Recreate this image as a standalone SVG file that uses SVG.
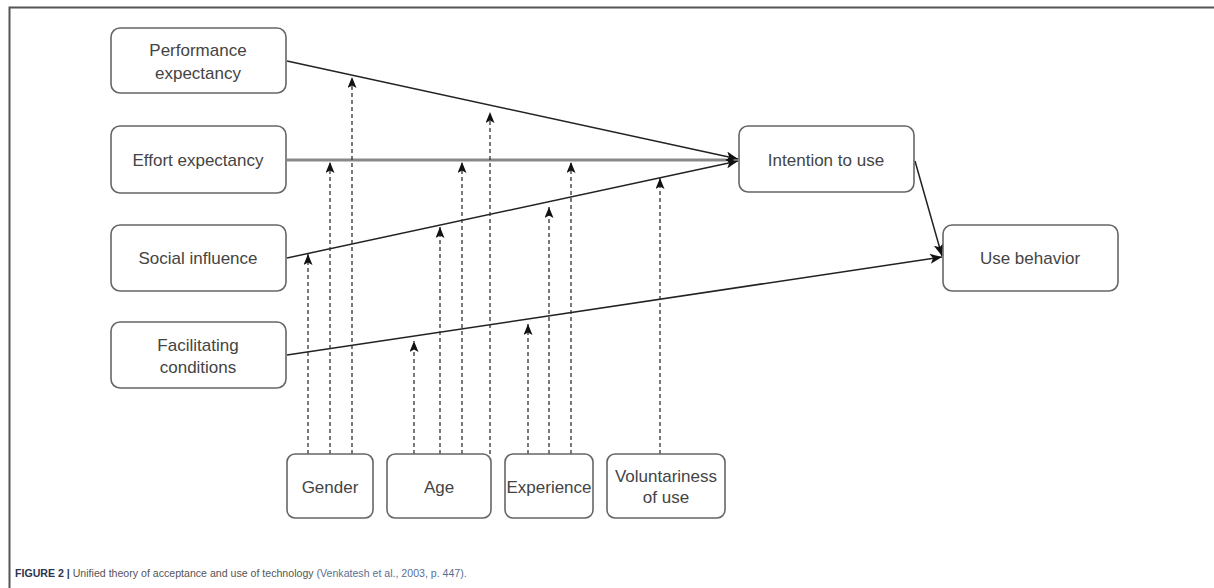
<svg xmlns="http://www.w3.org/2000/svg" width="1214" height="588" viewBox="0 0 1214 588">
<defs>
<style>
.box{fill:#fff;stroke:#666;stroke-width:1.6}
.lbl{font-family:"Liberation Sans",Arial,sans-serif;font-size:17px;fill:#444;text-anchor:middle}
.cap{font-family:"Liberation Sans",Arial,sans-serif;font-size:10.6px}
.solid{stroke:#222;stroke-width:1.5;fill:none}
.thick{stroke:#888;stroke-width:3;fill:none}
.dash{stroke:#333;stroke-width:1.3;stroke-dasharray:4 3;fill:none}
</style>
<marker id="big" viewBox="0 0 12 10" refX="12" refY="5" markerWidth="12" markerHeight="10" markerUnits="userSpaceOnUse" orient="auto"><path d="M0,0 L12,5 L0,10 L3,5 z" fill="#111"/></marker>
<marker id="sm" viewBox="0 0 11 9" refX="11" refY="4.5" markerWidth="11" markerHeight="9" markerUnits="userSpaceOnUse" orient="auto"><path d="M0,0 L11,4.5 L0,9 L2.5,4.5 z" fill="#111"/></marker>
</defs>
<rect width="1214" height="588" fill="#fff"/>
<path d="M9.5,588 V7.5 H1214" fill="none" stroke="#555" stroke-width="2"/>

<g id="connectors">
<line class="solid" x1="287" y1="61" x2="738" y2="159" marker-end="url(#big)"/>
<line class="thick" x1="287" y1="160" x2="726" y2="160"/>
<line class="solid" x1="287" y1="258" x2="738" y2="161" marker-end="url(#big)"/>
<line class="solid" x1="287" y1="355" x2="942" y2="257" marker-end="url(#big)"/>
<line class="solid" x1="915" y1="161" x2="942" y2="256" marker-end="url(#big)"/>
<line class="dash" x1="308" y1="454" x2="308" y2="254" marker-end="url(#sm)"/>
<line class="dash" x1="330" y1="454" x2="330" y2="162" marker-end="url(#sm)"/>
<line class="dash" x1="352" y1="454" x2="352" y2="77" marker-end="url(#sm)"/>
<line class="dash" x1="414" y1="454" x2="414" y2="341" marker-end="url(#sm)"/>
<line class="dash" x1="440" y1="454" x2="440" y2="227" marker-end="url(#sm)"/>
<line class="dash" x1="462" y1="454" x2="462" y2="162" marker-end="url(#sm)"/>
<line class="dash" x1="490" y1="454" x2="490" y2="112" marker-end="url(#sm)"/>
<line class="dash" x1="528" y1="454" x2="528" y2="324" marker-end="url(#sm)"/>
<line class="dash" x1="549" y1="454" x2="549" y2="207" marker-end="url(#sm)"/>
<line class="dash" x1="571" y1="454" x2="571" y2="162" marker-end="url(#sm)"/>
<line class="dash" x1="660" y1="454" x2="660" y2="178" marker-end="url(#sm)"/>
</g>

<g id="performance">
<rect class="box" x="111" y="28" width="175" height="65" rx="9"/>
<text class="lbl" x="198" y="56">Performance</text>
<text class="lbl" x="198" y="79">expectancy</text>
</g>
<g id="effort">
<rect class="box" x="111" y="126" width="175" height="67" rx="9"/>
<text class="lbl" x="198" y="166">Effort expectancy</text>
</g>
<g id="social">
<rect class="box" x="111" y="225" width="175" height="66" rx="9"/>
<text class="lbl" x="198" y="264">Social influence</text>
</g>
<g id="facilitating">
<rect class="box" x="111" y="322" width="175" height="66" rx="9"/>
<text class="lbl" x="198" y="351">Facilitating</text>
<text class="lbl" x="198" y="373">conditions</text>
</g>
<g id="intention">
<rect class="box" x="739" y="126" width="175" height="66" rx="9"/>
<text class="lbl" x="826" y="166">Intention to use</text>
</g>
<g id="usebehavior">
<rect class="box" x="943" y="225" width="175" height="66" rx="9"/>
<text class="lbl" x="1030" y="264">Use behavior</text>
</g>
<g id="gender">
<rect class="box" x="287" y="454" width="86" height="64" rx="8"/>
<text class="lbl" x="330" y="493">Gender</text>
</g>
<g id="age">
<rect class="box" x="387" y="454" width="104" height="64" rx="8"/>
<text class="lbl" x="439" y="493">Age</text>
</g>
<g id="experience">
<rect class="box" x="505" y="454" width="88" height="64" rx="8"/>
<text class="lbl" x="549" y="493">Experience</text>
</g>
<g id="voluntariness">
<rect class="box" x="607" y="454" width="118" height="64" rx="8"/>
<text class="lbl" x="666" y="482">Voluntariness</text>
<text class="lbl" x="666" y="503">of use</text>
</g>

<text class="cap" x="15" y="577"><tspan font-weight="bold" fill="#2b3550">FIGURE 2 | </tspan><tspan fill="#555">Unified theory of acceptance and use of technology </tspan><tspan fill="#5a6f95">(Venkatesh et al., 2003, p. 447).</tspan></text>
</svg>
